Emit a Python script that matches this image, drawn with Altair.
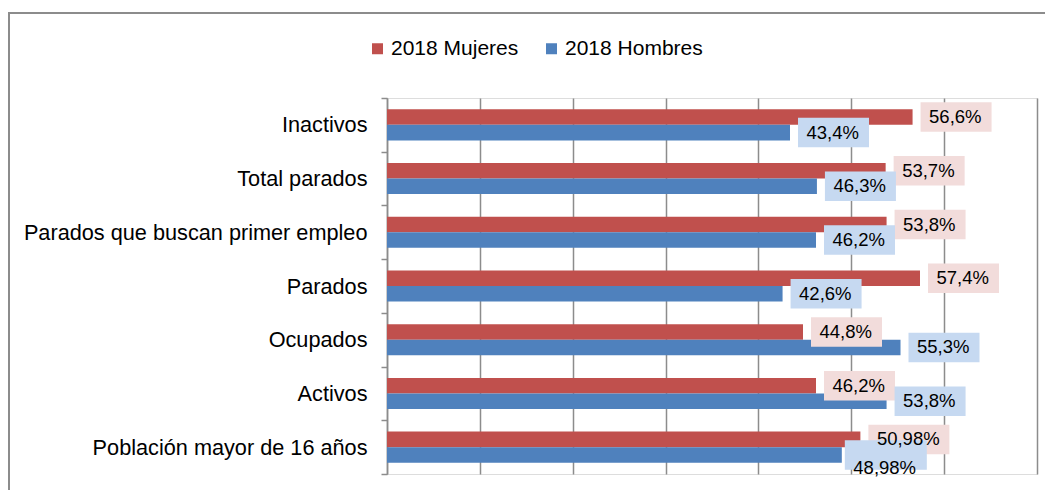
import altair as alt
import pandas as pd

categories = [
    "Inactivos",
    "Total parados",
    "Parados que buscan primer empleo",
    "Parados",
    "Ocupados",
    "Activos",
    "Población mayor de 16 años",
]
series = ["2018 Mujeres", "2018 Hombres"]
mujeres = [56.6, 53.7, 53.8, 57.4, 44.8, 46.2, 50.98]
hombres = [43.4, 46.3, 46.2, 42.6, 55.3, 53.8, 48.98]

bar_colors = ["#C0504D", "#4F81BD"]
box_colors = ["#F2DCDB", "#C6D9F1"]
GRID = "#8C8C8C"
FONT = "Liberation Sans"

rows = []
for s, vals in zip(series, [mujeres, hombres]):
    for i, (c, v) in enumerate(zip(categories, vals)):
        # label collision avoidance: when both labels sit nearly on top of
        # each other, the second series' label is pushed down
        close = abs(mujeres[i] - hombres[i]) < 5
        rows.append({"category": c, "series": s, "value": v,
                     "label": f"{v}".replace(".", ",") + "%",
                     "dodge": bool(close and s == series[1])})
df = pd.DataFrame(rows)

base = alt.Chart(df)

y_enc = alt.Y("category:N", sort=categories,
              scale=alt.Scale(paddingInner=0, paddingOuter=0),
              axis=alt.Axis(title=None, labelFontSize=21.7, labelFont=FONT,
                            labelColor="#000000", tickBand="extent",
                            tickColor=GRID, tickSize=6, tickWidth=1.5,
                            domainColor=GRID, domainWidth=1.5,
                            labelPadding=14, labelLimit=0, grid=False))
yoff_enc = alt.YOffset("series:N", sort=series,
                       scale=alt.Scale(domain=series, paddingOuter=0.73, paddingInner=0))
x_enc = alt.X("value:Q", scale=alt.Scale(domain=[0, 70], nice=False),
              axis=alt.Axis(title=None, values=list(range(0, 71, 10)),
                            labels=False, ticks=False, domain=False,
                            grid=True, gridColor=GRID, gridWidth=1.5))

y_plain = alt.Y("category:N", sort=categories)
yoff_plain = alt.YOffset("series:N", sort=series)

frame = alt.Chart(alt.Data(values=[{}])).mark_rect(
    fill=None, stroke=GRID, strokeWidth=2
).encode(x=alt.value(-378), x2=alt.value(700), y=alt.value(-85), y2=alt.value(450))

bars = base.mark_bar().encode(
    x=x_enc,
    y=y_enc,
    yOffset=yoff_enc,
    color=alt.Color("series:N", sort=series,
                    scale=alt.Scale(domain=series, range=bar_colors),
                    legend=alt.Legend(title=None, orient="none", legendX=-20, legendY=-60,
                                      direction="horizontal", symbolType="square",
                                      symbolSize=121, symbolStrokeWidth=0,
                                      labelFontSize=21, labelFont=FONT,
                                      labelColor="#000000", labelOffset=3,
                                      columnPadding=22, padding=0)),
)

box_color = alt.Color("series:N", scale=alt.Scale(domain=series, range=box_colors), legend=None)


def box_layer(cond, **mk):
    return base.transform_filter(cond).mark_rect(height=29.5, **mk).encode(
        x="value:Q", x2="value:Q", y=y_plain, yOffset=yoff_plain, color=box_color)


def text_layer(cond, **mk):
    return base.transform_filter(cond).mark_text(
        align="left", baseline="middle", fontSize=18.5, font=FONT,
        color="#000000", **mk).encode(
        x="value:Q", y=y_plain, yOffset=yoff_plain, text="label:N")


box_short = box_layer("!datum.dodge && length(datum.label) <= 5", xOffset=8, x2Offset=79)
box_long = box_layer("!datum.dodge && length(datum.label) > 5", xOffset=8, x2Offset=89)
box_dodge = box_layer("datum.dodge", xOffset=3, x2Offset=85, yOffset=13.5, y2Offset=13.5)

text_main = text_layer("!datum.dodge", dx=16.5)
text_dodge = text_layer("datum.dodge", dx=11.5, dy=13.5)

chart = alt.layer(frame, bars, box_short, box_long, box_dodge,
                  text_main, text_dodge).resolve_scale(
    color="independent"
).properties(
    width=650, height=376,
    autosize=alt.AutoSizeParams(type="none"),
    padding={"left": 379, "top": 90, "right": 8, "bottom": 16},
).configure_view(stroke=None).configure(font=FONT)

chart.save("out.html", embed_options={"renderer": "svg", "actions": False})
